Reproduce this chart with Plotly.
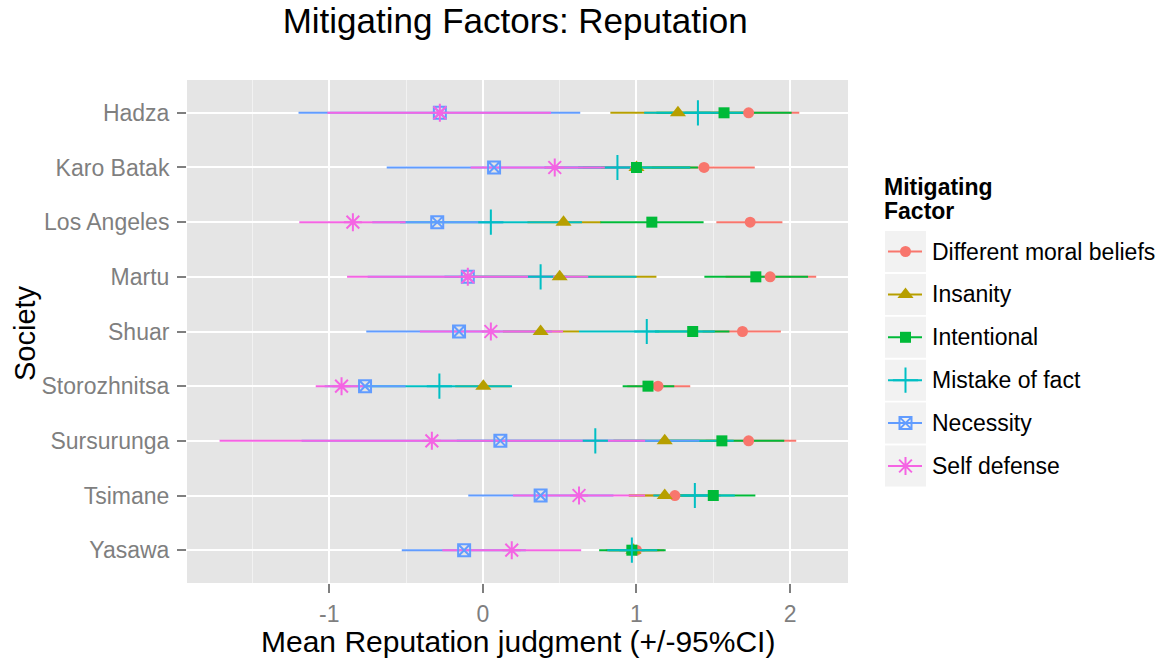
import plotly.graph_objects as go

# societies, top to bottom
societies = ["Hadza", "Karo Batak", "Los Angeles", "Martu", "Shuar",
             "Storozhnitsa", "Sursurunga", "Tsimane", "Yasawa"]

factors = ["Different moral beliefs", "Insanity", "Intentional",
           "Mistake of fact", "Necessity", "Self defense"]

# mean reputation judgment per factor (same society order)
diff_mean = [1.73, 1.44, 1.74, 1.87, 1.69, 1.14, 1.73, 1.25, 1.00]
diff_lo = [1.40, 1.10, 1.52, 1.58, 1.43, 0.94, 1.45, 0.95, 0.80]
diff_hi = [2.06, 1.77, 1.95, 2.17, 1.94, 1.35, 2.04, 1.55, 1.18]

ins_mean = [1.27, 1.00, 0.525, 0.50, 0.376, 0.003, 1.184, 1.184, 0.98]
ins_lo = [0.83, 0.65, 0.29, -0.13, 0.13, -0.18, 0.85, 0.95, 0.82]
ins_hi = [1.70, 1.35, 0.77, 1.13, 0.626, 0.18, 1.52, 1.35, 1.15]

int_mean = [1.57, 1.00, 1.10, 1.777, 1.366, 1.075, 1.556, 1.50, 0.97]
int_lo = [1.13, 0.62, 0.765, 1.442, 1.12, 0.91, 1.15, 1.23, 0.757]
int_hi = [2.01, 1.40, 1.437, 2.117, 1.605, 1.246, 1.962, 1.774, 1.19]

mis_mean = [1.40, 0.876, 0.052, 0.376, 1.067, -0.283, 0.732, 1.38, 0.97]
mis_lo = [1.05, 0.40, -0.54, -0.25, 0.626, -0.76, -0.17, 1.11, 0.81]
mis_hi = [1.70, 1.35, 0.645, 1.00, 1.51, 0.19, 1.633, 1.64, 1.135]

nec_mean = [-0.28, 0.073, -0.297, -0.098, -0.155, -0.767, 0.114, 0.376, -0.122]
nec_lo = [-1.20, -0.626, -0.72, -0.75, -0.759, -1.03, -1.18, -0.095, -0.528]
nec_hi = [0.634, 0.77, 0.13, 0.55, 0.45, -0.503, 1.41, 0.85, 0.28]

sd_mean = [-0.28, 0.468, -0.846, -0.098, 0.052, -0.92, -0.332, 0.626, 0.188]
sd_lo = [-1.012, -0.08, -1.195, -0.884, -0.41, -1.088, -1.714, 0.196, -0.264]
sd_hi = [0.444, 1.00, -0.503, 0.686, 0.522, -0.767, 1.056, 1.056, 0.64]

means = [diff_mean, ins_mean, int_mean, mis_mean, nec_mean, sd_mean]
lows = [diff_lo, ins_lo, int_lo, mis_lo, nec_lo, sd_lo]
highs = [diff_hi, ins_hi, int_hi, mis_hi, nec_hi, sd_hi]

colors = ["#F8766D", "#B79F00", "#00BA38", "#00BFC4", "#619CFF", "#F564E3"]
symbols = ["circle", "triangle-up", "square", "cross-thin-open",
           "square-x-open", "asterisk-open"]
sizes = [11, 14, 11, 18, 12, 15]

FONT = "Liberation Sans, Arial, sans-serif"
W, H = 1167, 660
L, R, T, B = 187, 848, 80, 583   # plot area in pixels

fig = go.Figure()


def marker_style(i):
    return dict(symbol=symbols[i], size=sizes[i], color=colors[i],
                line=dict(color=colors[i], width=2 if i >= 3 else 0))


# error bars first (all factors), then points on top, like ggplot layers
for i, f in enumerate(factors):
    xs, ys = [], []
    for s, lo, hi in zip(societies, lows[i], highs[i]):
        xs += [lo, hi, None]
        ys += [s, s, None]
    fig.add_trace(go.Scatter(x=xs, y=ys, mode="lines",
                             line=dict(color=colors[i], width=2),
                             showlegend=False, hoverinfo="skip"))

for i, f in enumerate(factors):
    fig.add_trace(go.Scatter(x=means[i], y=societies, mode="markers",
                             name=f, marker=marker_style(i), showlegend=False))

# background of the panel
fig.add_shape(type="rect", xref="x domain", yref="y domain",
              x0=0, x1=1, y0=0, y1=1, fillcolor="#E5E5E5",
              line=dict(width=0), layer="below")

# legend, drawn on a helper axis laid out in pixels
xdom = (R - L) / (W - L)
leg_y0, leg_step = 251.5, 42.9
for i, f in enumerate(factors):
    yc = leg_y0 + i * leg_step
    fig.add_shape(type="rect", xref="x2", yref="y2", x0=885, x1=926,
                  y0=yc - 20.5, y1=yc + 20.5, fillcolor="#F2F2F2",
                  line=dict(width=0), layer="below")
    fig.add_trace(go.Scatter(x=[888, 922], y=[yc, yc], mode="lines",
                             line=dict(color=colors[i], width=2),
                             xaxis="x2", yaxis="y2", showlegend=False,
                             hoverinfo="skip"))
    fig.add_trace(go.Scatter(x=[905.5], y=[yc], mode="markers",
                             marker=marker_style(i), xaxis="x2", yaxis="y2",
                             showlegend=False, hoverinfo="skip"))
    fig.add_annotation(x=930, y=yc, xref="x2", yref="y2", text=f,
                       showarrow=False, xanchor="left", yanchor="middle",
                       font=dict(size=23, color="black", family=FONT))

for txt, yy in [("<b>Mitigating</b>", 187), ("<b>Factor</b>", 211)]:
    fig.add_annotation(x=882, y=yy, xref="x2", yref="y2", text=txt,
                       showarrow=False, xanchor="left", yanchor="middle",
                       font=dict(size=23, color="black", family=FONT))

# axis titles
fig.add_annotation(x=((L + R) / 2 - L) / (W - L), y=(B - 641) / (B - T),
                   xref="paper", yref="paper", showarrow=False,
                   text="Mean Reputation judgment (+/-95%CI)",
                   xanchor="center", yanchor="middle", borderpad=0,
                   font=dict(size=30, color="black", family=FONT))
fig.add_annotation(x=(25 - L) / (W - L), y=(B - 333) / (B - T),
                   xref="paper", yref="paper", showarrow=False,
                   text="Society", textangle=-90,
                   xanchor="center", yanchor="middle",
                   font=dict(size=29, color="black", family=FONT))

fig.update_layout(
    width=W, height=H,
    margin=dict(l=L, r=0, t=T, b=H - B, pad=0),
    paper_bgcolor="white", plot_bgcolor="rgba(0,0,0,0)",
    font=dict(family=FONT),
    title=dict(text="Mitigating Factors: Reputation", x=(L + R) / 2 / W - 0.002,
               xanchor="center", y=1 - 21 / H, yanchor="middle",
               font=dict(size=35, color="black", family=FONT)),
    xaxis=dict(domain=[0, xdom], range=[-1.926, 2.377],
               tickvals=[-1, 0, 1, 2], ticktext=["-1", "0", "1", "2"],
               showgrid=True, gridcolor="white", gridwidth=2,
               minor=dict(tickvals=[-1.5, -0.5, 0.5, 1.5], showgrid=True,
                          gridcolor="#F2F2F2", gridwidth=1, ticks=""),
               zeroline=False, showline=False,
               ticks="outside", ticklen=9, tickwidth=2, tickcolor="#7F7F7F",
               ticklabelstandoff=1,
               tickfont=dict(size=23, color="#7F7F7F", family=FONT)),
    yaxis=dict(domain=[0, 1], categoryorder="array", categoryarray=societies,
               range=[len(societies) - 0.4, -0.6],
               showgrid=True, gridcolor="white", gridwidth=2,
               zeroline=False, showline=False,
               ticks="outside", ticklen=9, tickwidth=2, tickcolor="#7F7F7F",
               ticklabelstandoff=3,
               tickfont=dict(size=23, color="#7F7F7F", family=FONT)),
    xaxis2=dict(domain=[xdom, 1], range=[R, W], visible=False,
                anchor="y2", fixedrange=True),
    yaxis2=dict(domain=[0, 1], range=[B, T], visible=False,
                anchor="x2", fixedrange=True),
    showlegend=False,
)

# the page body has a default 8px margin; drop it so the figure sits at 0,0
fig.write_html("out.html", config={"displayModeBar": False},
               post_script="document.body.style.margin='0';")
